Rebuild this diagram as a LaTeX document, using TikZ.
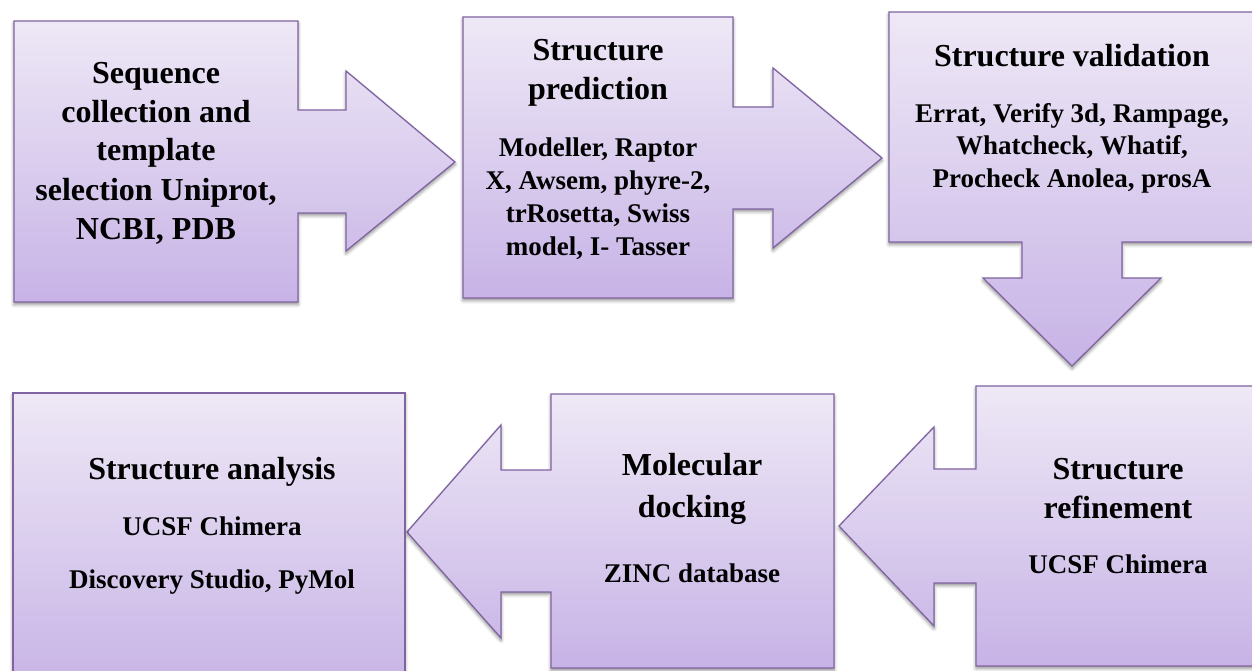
\documentclass[tikz,border=0pt]{standalone}
\usepackage{fontspec}
\setmainfont{Liberation Serif}
\usetikzlibrary{shadows.blur}
\definecolor{edgepurple}{HTML}{8064A2}
\definecolor{toppurple}{HTML}{EEE8F6}
\definecolor{botpurple}{HTML}{C7B3E6}
\tikzset{
  stage/.style={draw=edgepurple, line width=1.3pt, line join=miter,
    top color=toppurple, bottom color=botpurple,
    blur shadow={shadow xshift=0pt, shadow yshift=-2.5pt, shadow blur steps=6,
      shadow blur radius=3.5pt, shadow opacity=45}},
  title/.style={align=center, font=\fontsize{32}{39}\selectfont\bfseries, inner sep=0pt, anchor=base},
  sub/.style={align=center, font=\fontsize{27}{33}\selectfont\bfseries, inner sep=0pt, anchor=base}
}
\begin{document}
\begin{tikzpicture}[x=1pt,y=-1pt]
\useasboundingbox (0,0) rectangle (1252,671);
\clip (0,0) rectangle (1252,671);
% shape 1
\path[stage] (14,21) -- (298,21) -- (298,110) -- (346,110) -- (346,71) -- (455,162)
  -- (346,251) -- (346,213) -- (298,213) -- (298,302) -- (14,302) -- cycle;
% shape 2
\path[stage] (463,17) -- (733,17) -- (733,107) -- (773,107) -- (773,68) -- (882,158)
  -- (773,248) -- (773,209) -- (733,209) -- (733,298) -- (463,298) -- cycle;
% shape 3
\path[stage] (889,12) -- (1265,12) -- (1265,242) -- (1122,242) -- (1122,278) -- (1161,278)
  -- (1072,366) -- (983,278) -- (1022,278) -- (1022,242) -- (889,242) -- cycle;
% shape 4
\path[stage] (976,386) -- (1265,386) -- (1265,666) -- (976,666) -- (976,583) -- (934,583)
  -- (934,626) -- (839,526) -- (934,427) -- (934,469) -- (976,469) -- cycle;
% shape 5
\path[stage] (551,394) -- (834,394) -- (834,668) -- (551,668) -- (551,592) -- (501,592)
  -- (501,638) -- (407,532) -- (501,425) -- (501,470) -- (551,470) -- cycle;
% shape 6
\path[stage] (13,393) -- (405,393) -- (405,690) -- (13,690) -- cycle;

% texts (anchor = baseline of the last line)
\node[title] (t1) at (156,239) {Sequence\\collection and\\template\\selection Uniprot,\\NCBI, PDB};
\node[title] (t2) at (598,100) {Structure\\prediction};
\node[sub] (s2) at (598,255) {Modeller, Raptor\\X, Awsem, phyre-2,\\trRosetta, Swiss\\model, I- Tasser};
\node[title] (t3) at (1072,67) {Structure validation};
\node[sub] (s3) at (1072,188) {Errat, Verify 3d, Rampage,\\Whatcheck, Whatif,\\Procheck Anolea, prosA};
\node[title] (t4) at (1118,518) {Structure\\refinement};
\node[sub] (s4) at (1118,573) {UCSF Chimera};
\node[title, font=\fontsize{32}{42}\selectfont\bfseries] (t5) at (692,517) {Molecular\\docking};
\node[sub] (s5) at (692,582) {ZINC database};
\node[title] (t6) at (212,479) {Structure analysis};
\node[sub] (s6) at (212,588) {UCSF Chimera\\[20pt]Discovery Studio, PyMol};
\end{tikzpicture}
\end{document}
